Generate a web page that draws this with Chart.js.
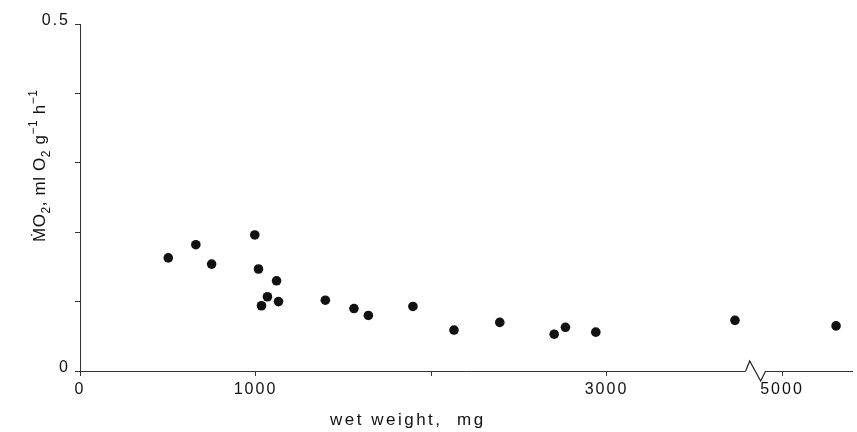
<!DOCTYPE html>
<html lang="en">
<head>
  <meta charset="UTF-8">
  <title>MO2 vs wet weight</title>
  <script src="https://cdn.jsdelivr.net/npm/chart.js@4"></script>
  <style>
    body { margin: 0; background: #fff; }
  </style>
</head>
<body>
  <canvas id="grafico" width="857" height="432"></canvas>
  <script>
    // wet weight (mg) and oxygen uptake (ml O2 g-1 h-1) of each animal
    const wetWeight = [503, 660, 750, 996, 1017, 1120, 1068, 1034, 1131, 1398, 1561, 1643, 1897, 2131, 2392, 2702, 2766, 2939, 3732, 5308];
    const uptake = [0.163, 0.182, 0.154, 0.196, 0.147, 0.130, 0.107, 0.094, 0.100, 0.102, 0.090, 0.080, 0.093, 0.059, 0.070, 0.053, 0.063, 0.056, 0.073, 0.065];

    const xTickValues = [0, 1000, 2000, 3000, 5000];
    const xTickLabels = ['0', '1000', '', '3000', '5000'];
    const yTickValues = [0, 0.1, 0.2, 0.3, 0.4, 0.5];
    const yTickLabels = ['0', '', '', '', '', '0.5'];

    // the x axis is broken: 1000 mg are left out after 3850 mg
    const cutFrom = 3850;
    const cutSize = 1000;
    function toAxis(w) {
      return w > cutFrom + cutSize ? w - cutSize : w;
    }

    const FONT = "'Liberation Sans', Arial, 'DejaVu Sans', sans-serif";
    Chart.defaults.font.family = FONT;

    // spaced-out lettering like the printed figure
    const spacing = {
      id: 'spacing',
      beforeDraw(chart) { chart.ctx.letterSpacing = '2px'; }
    };

    // zigzag where the x axis is cut
    const brokenAxis = {
      id: 'brokenAxis',
      afterDraw(chart) {
        const c = chart.scales.x.getPixelForValue(cutFrom);
        const y0 = chart.chartArea.bottom;
        const ctx = chart.ctx;
        ctx.save();
        ctx.fillStyle = '#fff';
        ctx.fillRect(c - 10, y0 - 2, 20, 4);
        ctx.strokeStyle = '#222';
        ctx.lineWidth = 1.2;
        ctx.beginPath();
        ctx.moveTo(c - 10, y0);
        ctx.lineTo(c - 6, y0 - 10);
        ctx.lineTo(c + 5, y0 + 10);
        ctx.lineTo(c + 10, y0);
        ctx.stroke();
        ctx.restore();
      }
    };

    // axis titles, with sub- and superscripts for the y title
    const axisTitles = {
      id: 'axisTitles',
      afterDraw(chart) {
        const ctx = chart.ctx;
        ctx.save();
        ctx.fillStyle = '#111';
        ctx.textBaseline = 'alphabetic';
        ctx.textAlign = 'left';
        ctx.letterSpacing = '2.5px';
        ctx.font = '17px ' + FONT;
        ctx.fillText('wet weight,  mg', 330, 425);

        const parts = [
          ['\u1E40O', 0, 17], ['2', 5, 12], [', ml O', 0, 17], ['2', 5, 12],
          [' g', 0, 17], ['\u22121', -8, 12], [' h', 0, 17], ['\u22121', -8, 12]
        ];
        ctx.translate(45, 242);
        ctx.rotate(-Math.PI / 2);
        ctx.letterSpacing = '0.6px';
        let x = 0;
        parts.forEach(([t, dy, size]) => {
          ctx.font = size + 'px ' + FONT;
          ctx.fillText(t, x, dy);
          x += ctx.measureText(t).width;
        });
        ctx.restore();
      }
    };

    const ctx = document.getElementById('grafico').getContext('2d');
    new Chart(ctx, {
      type: 'scatter',
      data: {
        datasets: [{
          data: wetWeight.map((w, i) => ({ x: toAxis(w), y: uptake[i] })),
          backgroundColor: '#111',
          borderWidth: 0,
          pointRadius: 4.8,
          pointHoverRadius: 4.8
        }]
      },
      options: {
        responsive: false,
        animation: false,
        events: [],
        layout: { padding: { top: 24, right: 4, left: 0, bottom: 0 } },
        plugins: {
          legend: { display: false },
          tooltip: { enabled: false }
        },
        scales: {
          x: {
            type: 'linear',
            min: 0,
            max: 4400,
            afterBuildTicks: s => { s.ticks = xTickValues.map(v => ({ value: toAxis(v) })); },
            afterFit: s => { s.height = 61; },
            ticks: {
              callback: (v, i) => xTickLabels[i],
              color: '#111',
              font: { size: 16 },
              padding: 4,
              maxRotation: 0,
              autoSkip: false
            },
            grid: { drawOnChartArea: false, tickLength: 5, color: '#333' },
            border: { color: '#333' }
          },
          y: {
            min: 0,
            max: 0.5,
            afterBuildTicks: s => { s.ticks = yTickValues.map(v => ({ value: v })); },
            afterFit: s => { s.width = 80; },
            ticks: {
              callback: (v, i) => yTickLabels[i],
              color: '#111',
              font: { size: 16 },
              padding: 5,
              labelOffset: -3,
              autoSkip: false
            },
            grid: { drawOnChartArea: false, tickLength: 5, color: '#333' },
            border: { color: '#333' }
          }
        }
      },
      plugins: [spacing, brokenAxis, axisTitles]
    });
  </script>
</body>
</html>
